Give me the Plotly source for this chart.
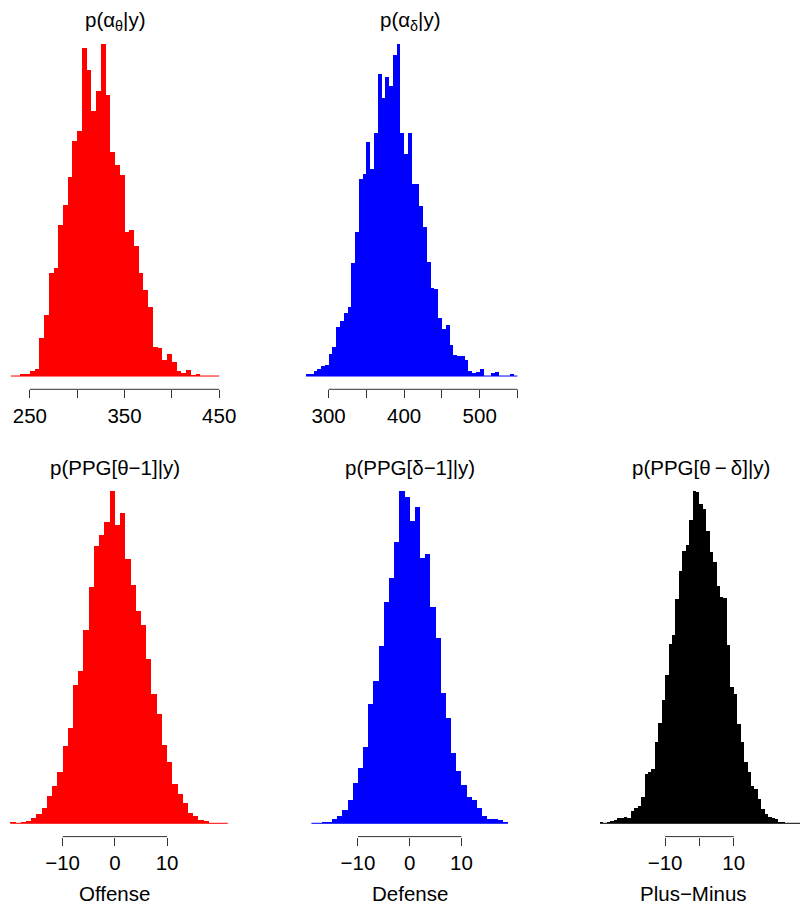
import plotly.graph_objects as go

W, H = 809, 905
FONT = "Liberation Sans, Arial, Helvetica, sans-serif"
FS = 20.5

# ---------------- data (histogram bin left edges and counts) ----------------
alpha_theta_bins = list(range(230, 450, 5))
alpha_theta_counts = [0, 0, 6, 6, 15, 21, 113, 183, 308, 325, 452, 512, 597, 704, 735,
                      985, 918, 795, 855, 995, 842, 672, 632, 602, 432, 437, 391, 308,
                      258, 208, 86, 84, 48, 66, 43, 16, 10, 19, 4, 7, 0, 0, 0, 0]

alpha_delta_bins = list(range(270, 550, 5))
alpha_delta_counts = [5, 5, 15, 22, 30, 33, 65, 87, 148, 167, 189, 207, 340, 435, 593,
                      607, 706, 622, 733, 908, 836, 900, 872, 966, 999, 731, 670, 733,
                      579, 579, 512, 449, 344, 265, 262, 175, 143, 153, 94, 64, 59, 60,
                      49, 14, 10, 12, 20, 0, 0, 8, 11, 0, 0, 0, 6]

offense_bins = list(range(-20, 22))
offense_counts = [5, 2, 5, 8, 16, 28, 46, 82, 112, 154, 232, 287, 414, 457, 579, 710,
                  832, 864, 904, 997, 895, 930, 794, 715, 636, 595, 492, 387, 327, 234,
                  184, 119, 89, 62, 32, 23, 11, 7, 2, 1, 0, 0]

defense_bins = list(range(-19, 19))
defense_counts = [1, 1, 4, 5, 13, 23, 40, 71, 120, 165, 230, 358, 428, 532, 665, 735,
                  844, 997, 979, 908, 949, 797, 807, 649, 555, 390, 315, 212, 157, 115,
                  80, 70, 47, 23, 14, 14, 9, 4]

plusminus_bins = list(range(-29, 30))
plusminus_counts = [3, 1, 3, 6, 10, 15, 17, 20, 15, 36, 45, 53, 80, 148, 153, 164, 243,
                    300, 371, 446, 536, 565, 671, 757, 815, 835, 910, 996, 992, 958, 943,
                    876, 813, 783, 710, 678, 676, 535, 408, 388, 298, 243, 183, 153, 113,
                    103, 73, 43, 28, 18, 16, 13, 4, 3, 1, 1, 0, 0, 0]

titles = ["p(α<sub>θ</sub>|y)", "p(α<sub>δ</sub>|y)",
          "p(PPG[θ−1]|y)", "p(PPG[δ−1]|y)", "p(PPG[θ\u2009−\u2009δ]|y)"]
xlabels = ["", "", "Offense", "Defense", "Plus−Minus"]

# labelled ticks, plus unlabelled tick spacing (tick0, dtick) or None
label_vals = [[250, 350, 450], [300, 400, 500], [-10, 0, 10], [-10, 0, 10], [-10, 10]]
label_text = [["250", "350", "450"], ["300", "400", "500"],
              ["−10", "0", "10"], ["−10", "0", "10"], ["−10", "10"]]
tick_span = [(250, 450), (300, 550), (-10, 10), (-10, 10), (-10, 10)]
minor_ticks = [(250, 50), (300, 50), None, None, (0, 100)]

# ---------------- layout geometry (pixels) ----------------
panels = [
    dict(bins=alpha_theta_bins, counts=alpha_theta_counts, bw=5, color="#FF0000",
         xpx=(2.6, 230.1), ypx=(31, 389.3), xr=(221.2, 458.8), tcx=None, lcx=None),
    dict(bins=alpha_delta_bins, counts=alpha_delta_counts, bw=5, color="#0000FF",
         xpx=(301.0, 527.9), ypx=(31, 389.3), xr=(259.0, 556.0), tcx=None, lcx=None),
    dict(bins=offense_bins, counts=offense_counts, bw=1, color="#FF0000",
         xpx=(2.0, 230.3), ypx=(477.7, 836.6), xr=(-21.6, 21.6), tcx=None, lcx=None),
    dict(bins=defense_bins, counts=defense_counts, bw=1, color="#0000FF",
         xpx=(301.3, 527.3), ypx=(477.7, 836.6), xr=(-21.6, 21.6), tcx=None, lcx=None),
    dict(bins=plusminus_bins, counts=plusminus_counts, bw=1, color="#000000",
         xpx=(594.9, 809.0), ypx=(477.7, 836.6), xr=(-32.4, 29.3), tcx=709.0, lcx=701.0),
]

fig = go.Figure()
layout = dict(width=W, height=H, margin=dict(l=0, r=0, t=0, b=0),
              paper_bgcolor="white", plot_bgcolor="white", showlegend=False,
              bargap=0, font=dict(family=FONT, size=FS, color="black"))
annotations = []
shapes = []

for i, p in enumerate(panels):
    k = "" if i == 0 else str(i + 1)
    xa, ya = "x" + k, "y" + k
    centers = [b + p["bw"] / 2 for b in p["bins"]]
    fig.add_trace(go.Bar(x=centers, y=p["counts"], width=[p["bw"]] * len(centers),
                         marker=dict(color=p["color"], line=dict(width=0)),
                         xaxis=xa, yaxis=ya, hoverinfo="x+y"))
    fig.add_trace(go.Scatter(x=[p["bins"][0], p["bins"][-1] + p["bw"]], y=[0, 0],
                             mode="lines", line=dict(color=p["color"], width=1),
                             xaxis=xa, yaxis=ya, hoverinfo="skip"))
    ymax = max(p["counts"])
    xd = [p["xpx"][0] / W, min(1.0, p["xpx"][1] / W)]
    yd = [1 - p["ypx"][1] / H, 1 - p["ypx"][0] / H]
    if minor_ticks[i]:
        minor = dict(tick0=minor_ticks[i][0], dtick=minor_ticks[i][1], ticks="outside",
                     ticklen=8, tickwidth=1, tickcolor="#333333", showgrid=False)
    else:
        minor = dict(ticks="", showgrid=False)
    layout["xaxis" + k] = dict(domain=xd, range=list(p["xr"]), anchor=ya,
                               showgrid=False, zeroline=False, showline=False,
                               tickmode="array", tickvals=label_vals[i], ticktext=label_text[i],
                               ticks="outside", ticklen=8, tickwidth=1, tickcolor="#333333",
                               tickfont=dict(family=FONT, size=FS, color="black"),
                               minor=minor, fixedrange=True)
    layout["yaxis" + k] = dict(domain=yd, range=[-0.04 * ymax, 1.04 * ymax], anchor=xa,
                               visible=False, fixedrange=True)
    # axis line from first to last tick (R style)
    shapes.append(dict(type="line", xref=xa, yref=ya + " domain",
                       x0=tick_span[i][0], x1=tick_span[i][1], y0=0, y1=0,
                       line=dict(color="#333333", width=1)))
    cx = (p["xpx"][0] + p["xpx"][1]) / 2
    tcx = p["tcx"] if p["tcx"] else cx
    lcx = p["lcx"] if p["lcx"] else cx
    ty = (p["ypx"][0] - 10) / H
    annotations.append(dict(text=titles[i], x=tcx / W, y=1 - ty, xref="paper", yref="paper",
                            xanchor="center", yanchor="middle", showarrow=False,
                            font=dict(family=FONT, size=FS, color="black")))
    if xlabels[i]:
        annotations.append(dict(text=xlabels[i], x=lcx / W, y=1 - 893 / H, xref="paper",
                                yref="paper", xanchor="center", yanchor="middle",
                                showarrow=False,
                                font=dict(family=FONT, size=FS, color="black")))

layout["annotations"] = annotations
layout["shapes"] = shapes
fig.update_layout(**layout)
fig.write_html("out.html", config={"displayModeBar": False, "staticPlot": True},
               post_script="document.body.style.margin='0';document.body.style.padding='0';"
                           "document.documentElement.style.overflow='hidden';")
